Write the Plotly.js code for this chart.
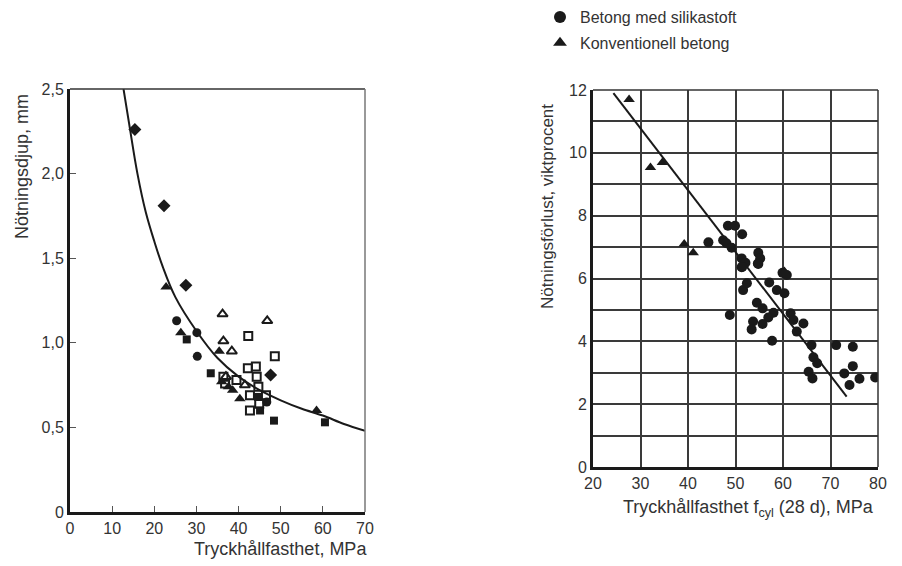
<!DOCTYPE html>
<html><head><meta charset="utf-8">
<script src="https://cdn.plot.ly/plotly-3.0.1.min.js"></script>
<style>html,body{margin:0;padding:0;background:#fff}#c{width:902px;height:566px}</style>
</head><body><div id="c"></div>
<script>
// ---- Left chart (Nötningsdjup) ----
const diamondX = [15.4, 22.3, 27.5, 47.6];
const diamondY = [2.26, 1.81, 1.34, 0.81];
const fTriX = [22.8, 26.3, 35.4, 40.3, 58.5, 36.0, 37.6, 38.6];
const fTriY = [1.33, 1.06, 0.95, 0.67, 0.60, 0.77, 0.74, 0.72];
const fCircX = [25.3, 30.1, 30.2, 46.7];
const fCircY = [1.13, 1.06, 0.92, 0.65];
const fSqX = [27.7, 33.4, 45.1, 48.4, 60.5, 44.6];
const fSqY = [1.02, 0.82, 0.60, 0.54, 0.53, 0.68];
const oTriX = [36.2, 46.8, 36.4, 38.4, 37.0, 41.5];
const oTriY = [1.17, 1.13, 1.01, 0.95, 0.80, 0.75];
const oSqX = [42.3, 48.6, 42.2, 44.1, 44.3, 44.7, 42.7, 44.9, 42.7, 46.5, 36.4, 36.8, 39.5];
const oSqY = [1.04, 0.92, 0.85, 0.86, 0.80, 0.74, 0.69, 0.64, 0.60, 0.69, 0.80, 0.76, 0.78];
const curveX = [12.7, 14, 16, 18, 20, 22, 25, 30, 35, 40, 45, 50, 55, 60, 65, 70];
const curveY = [2.5, 2.3, 2.0, 1.77, 1.6, 1.45, 1.27, 1.07, 0.91, 0.80, 0.72, 0.66, 0.61, 0.57, 0.52, 0.48];
const leftXTicks = [0, 10, 20, 30, 40, 50, 60, 70];
const leftYTicks = [0, 0.5, 1.0, 1.5, 2.0, 2.5];
const leftYLabels = ["0", "0,5", "1,0", "1,5", "2,0", "2,5"];

// ---- Right chart (Nötningsförlust) ----
const silikaX = [48.4, 49.9, 51.4, 44.3, 47.4, 48.1, 49.2, 54.8, 55.2, 54.7, 51.3, 52.1, 51.3, 59.9,
  51.4, 54.8, 51.6, 52.4, 57.1, 58.7, 60.3, 60.8, 54.5, 55.7, 58.0, 56.9, 48.8, 53.7, 55.7, 53.4,
  61.6, 62.2, 64.3, 62.9, 57.7, 66.0, 66.4, 67.2, 65.4, 66.2, 71.2, 74.7, 74.7, 72.9, 74.0, 76.1, 79.4];
const silikaY = [7.68, 7.68, 7.41, 7.15, 7.22, 7.12, 6.98, 6.82, 6.64, 6.48, 6.64, 6.50, 6.36, 6.18,
  6.37, 6.46, 5.63, 5.85, 5.87, 5.63, 5.53, 6.11, 5.23, 5.05, 4.91, 4.76, 4.84, 4.63, 4.55, 4.38,
  4.89, 4.68, 4.57, 4.31, 4.02, 3.88, 3.49, 3.30, 3.03, 2.82, 3.88, 3.83, 3.21, 2.98, 2.61, 2.81, 2.85];
const konvX = [27.6, 32.1, 34.6, 39.2, 41.1, 60.3];
const konvY = [11.7, 9.53, 9.69, 7.10, 6.82, 6.22];
const lineX = [24.3, 73.4];
const lineY = [11.9, 2.24];
const rightXTicks = [20, 30, 40, 50, 60, 70, 80];
const rightYTicks = [0, 2, 4, 6, 8, 10, 12];

const ink = '#1a1a1a';
const FONT = 'Liberation Sans, Arial, Helvetica, sans-serif';
function pts(x, y, sym, size, name, ax, show, grp) {
  return {x: x, y: y, mode: 'markers', type: 'scatter', name: name, showlegend: !!show,
    legendgroup: grp || name, xaxis: ax[0], yaxis: ax[1], hoverinfo: 'skip',
    marker: {symbol: sym, size: size, color: ink, line: {color: ink, width: sym.indexOf('open') >= 0 ? 2 : 0}}};
}
const L = ['x', 'y'], R = ['x2', 'y2'];
const data = [
  {x: curveX, y: curveY, mode: 'lines', type: 'scatter', line: {color: ink, width: 2, shape: 'spline'},
   showlegend: false, xaxis: 'x', yaxis: 'y', hoverinfo: 'skip'},
  pts(oSqX, oSqY, 'square-open', 8, 'oSq', L),
  pts(oTriX, oTriY, 'triangle-up-open', 9, 'oTri', L),
  pts(diamondX, diamondY, 'diamond', 10, 'dia', L),
  pts(fTriX, fTriY, 'triangle-up', 10, 'fTri', L),
  pts(fCircX, fCircY, 'circle', 9, 'fCirc', L),
  pts(fSqX, fSqY, 'square', 8, 'fSq', L),
  {x: lineX, y: lineY, mode: 'lines', type: 'scatter', line: {color: ink, width: 2},
   showlegend: false, xaxis: 'x2', yaxis: 'y2', hoverinfo: 'skip'},
  pts(silikaX, silikaY, 'circle', 10, 'Betong med silikastoft', R, true, 'g1'),
  pts(konvX, konvY, 'triangle-up', 10, 'Konventionell betong', R, true, 'g2')
];
const tickFont = {family: FONT, size: 16, color: '#333'};
const layout = {
  width: 902, height: 566, margin: {l: 0, r: 0, t: 0, b: 0},
  paper_bgcolor: '#fff', plot_bgcolor: '#fff',
  font: {family: FONT, color: '#333'},
  xaxis: {domain: [70/902, 365/902], range: [0, 70], tickvals: leftXTicks, ticks: 'inside', ticklen: 6,
    tickcolor: '#555', showgrid: false, zeroline: false, showline: true, linewidth: 3, linecolor: ink,
    tickfont: tickFont, fixedrange: true},
  yaxis: {domain: [54/566, 477/566], range: [0, 2.5], tickvals: leftYTicks, ticktext: leftYLabels,
    ticks: 'inside', ticklen: 6, tickcolor: '#555', showgrid: false, zeroline: false, showline: true,
    linewidth: 3, linecolor: ink, tickfont: tickFont, fixedrange: true},
  xaxis2: {domain: [593/902, 878/902], range: [20, 80], tickvals: rightXTicks, ticks: '',
    showgrid: true, gridcolor: '#3a3a3a', gridwidth: 2, zeroline: false, showline: true, linewidth: 3,
    linecolor: ink, tickfont: tickFont, anchor: 'y2', fixedrange: true},
  yaxis2: {domain: [99/566, 476/566], range: [0, 12], tickvals: rightYTicks, ticks: '',
    showgrid: true, gridcolor: '#3a3a3a', gridwidth: 2, zeroline: false, showline: true, linewidth: 3,
    minor: {dtick: 1, tick0: 0, showgrid: true, gridcolor: '#3a3a3a', gridwidth: 2, ticks: ''},
    linecolor: ink, tickfont: tickFont, anchor: 'x2', fixedrange: true},
  showlegend: true,
  legend: {x: 540/902, y: 1.0, xanchor: 'left', yanchor: 'top', font: {family: FONT, size: 16, color: '#333'},
    bgcolor: 'rgba(0,0,0,0)', traceorder: 'grouped', tracegroupgap: 2, itemsizing: 'constant'},
  shapes: [
    {type: 'line', xref: 'x domain', yref: 'y domain', x0: 0, x1: 1, y0: 1, y1: 1, line: {color: '#333', width: 1.5}},
    {type: 'line', xref: 'x domain', yref: 'y domain', x0: 1, x1: 1, y0: 0, y1: 1, line: {color: '#777', width: 1.5}},
    {type: 'line', xref: 'x2 domain', yref: 'y2 domain', x0: 0, x1: 1, y0: 1, y1: 1, line: {color: '#333', width: 1.5}},
    {type: 'line', xref: 'x2 domain', yref: 'y2 domain', x0: 1, x1: 1, y0: 0, y1: 1, line: {color: '#333', width: 1.5}}
  ],
  annotations: [
    {text: 'Nötningsdjup, mm', xref: 'paper', yref: 'paper', x: 22/902, y: 1 - 167/566, textangle: -90,
     showarrow: false, font: {family: FONT, size: 18, color: '#333'}, xanchor: 'center', yanchor: 'middle'},
    {text: 'Tryckhållfasthet, MPa', xref: 'paper', yref: 'paper', x: 369/902, y: 1 - 549/566,
     showarrow: false, font: {family: FONT, size: 18, color: '#333'}, xanchor: 'right', yanchor: 'middle'},
    {text: 'Nötningsförlust, viktprocent', xref: 'paper', yref: 'paper', x: 548/902, y: 1 - 207/566, textangle: -90,
     showarrow: false, font: {family: FONT, size: 17, color: '#333'}, xanchor: 'center', yanchor: 'middle'},
    {text: 'Tryckhållfasthet f<sub>cyl</sub> (28 d), MPa', xref: 'paper', yref: 'paper', x: 748/902, y: 1 - 508/566,
     showarrow: false, font: {family: FONT, size: 18, color: '#333'}, xanchor: 'center', yanchor: 'middle'}
  ]
};
Plotly.newPlot('c', data, layout, {displayModeBar: false, staticPlot: true});
</script></body></html>
